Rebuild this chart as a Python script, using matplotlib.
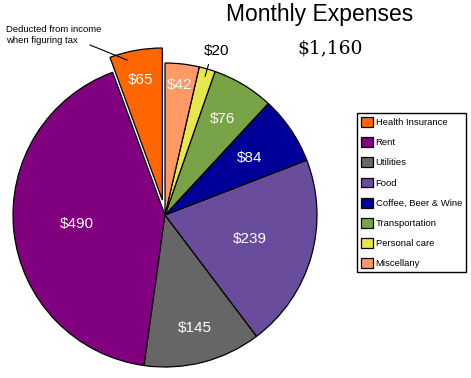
import numpy as np
import matplotlib.pyplot as plt

# Data
categories = ["Health Insurance", "Rent", "Utilities", "Food",
              "Coffee, Beer & Wine", "Transportation", "Personal care", "Miscellany"]
amounts = [65, 490, 145, 239, 84, 76, 20, 42]
colors = ["#FF6600", "#800080", "#666666", "#6A4C9C",
          "#000099", "#78A347", "#E6E64D", "#FF9966"]
explode = [0.1, 0, 0, 0, 0, 0, 0, 0]
# radial position of each value label (fraction of radius)
label_r = [0.8, 0.58, 0.77, 0.58, 0.67, 0.74, 1.12, 0.86]

plt.rcParams['font.family'] = ['Liberation Sans', 'DejaVu Sans']

fig = plt.figure(figsize=(4.71, 3.78), dpi=100)
ax = fig.add_axes([0, 0, 1, 1])

# pie centre at (165, 215) px, radius 152 px
R = 152.0
cx, cy = 165.0, 215.0

wedges, _ = ax.pie(amounts, colors=colors, explode=explode, startangle=90,
                   counterclock=True, radius=1.0, center=(0, 0), frame=True,
                   wedgeprops=dict(edgecolor='black', linewidth=0.9))
ax.set_xlim(-cx / R, (471 - cx) / R)
ax.set_ylim(-(378 - cy) / R, cy / R)
ax.set_aspect('equal')
ax.axis('off')

for i, w in enumerate(wedges):
    mid = np.deg2rad((w.theta1 + w.theta2) / 2)
    x0, y0 = w.center
    r = label_r[i]
    tx, ty = x0 + r * np.cos(mid), y0 + r * np.sin(mid)
    if r > 1:
        ax.plot([x0 + 0.95 * np.cos(mid), x0 + 1.03 * np.cos(mid)],
                [y0 + 0.95 * np.sin(mid), y0 + 1.03 * np.sin(mid)],
                color='black', lw=0.8)
        ax.text(tx + 0.03, ty, f"${amounts[i]}", color='black', fontsize=11,
                ha='center', va='center')
    else:
        ax.text(tx, ty, f"${amounts[i]}", color='white', fontsize=11,
                ha='center', va='center')

# Titles
fig.text(320 / 471, 1 - 15 / 378, "Monthly Expenses", fontsize=16.5,
         ha='center', va='center')
fig.text(330 / 471, 1 - 48 / 378, "$1,160", fontsize=13.5, ha='center', va='center',
         family=['DejaVu Serif'])

# Note on health insurance
fig.text(6 / 471, 1 - 35 / 378, "Deducted from income\nwhen figuring tax",
         fontsize=6.8, ha='left', va='center', linespacing=1.15)
fig.add_artist(plt.Line2D([90 / 471, 127 / 471], [1 - 45 / 378, 1 - 60 / 378],
                          color='black', lw=0.8))

leg = ax.legend(wedges, categories, loc='upper left',
                bbox_to_anchor=(357 / 471, 1 - 113 / 378),
                bbox_transform=fig.transFigure, fontsize=6.8,
                handlelength=1.25, handleheight=1.25, handletextpad=0.3,
                labelspacing=1.06, borderpad=0.42, borderaxespad=0,
                fancybox=False, framealpha=1, edgecolor='black')
leg.get_frame().set_linewidth(1.0)

fig.savefig("out.png", dpi=100)
